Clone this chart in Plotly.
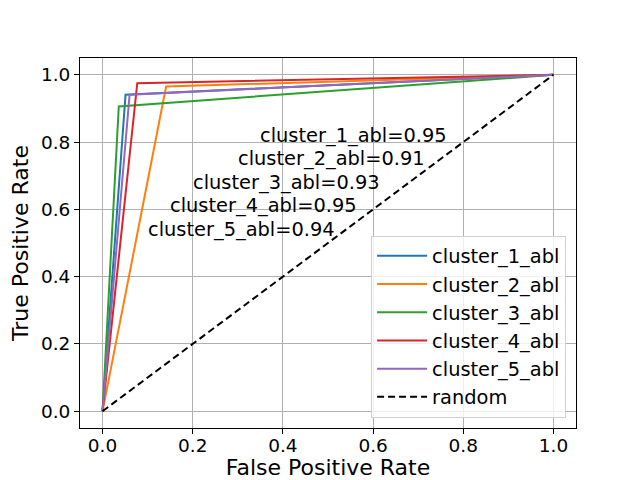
import plotly.graph_objects as go

# ROC points: (0,0) -> (fpr, tpr) -> (1,1)
names = ["cluster_1_abl", "cluster_2_abl", "cluster_3_abl", "cluster_4_abl", "cluster_5_abl"]
fpr = [0.051, 0.141, 0.036, 0.077, 0.060]
tpr = [0.941, 0.965, 0.906, 0.975, 0.941]
auc = [0.95, 0.91, 0.93, 0.95, 0.94]
random_x = [0, 1]
random_y = [0, 1]

colors = ["#1f77b4", "#ff7f0e", "#2ca02c", "#d62728", "#9467bd"]
font = "DejaVu Sans"

# where the auc labels sit (left edge, baseline)
label_x = [0.35, 0.30, 0.20, 0.15, 0.10]
label_y = [0.80, 0.73, 0.66, 0.59, 0.52]

fig = go.Figure()
for i, name in enumerate(names):
    fig.add_trace(go.Scatter(
        x=[0, fpr[i], 1], y=[0, tpr[i], 1], mode="lines", name=name,
        legendgroup=name, line=dict(color=colors[i], width=2),
    ))
fig.add_trace(go.Scatter(
    x=random_x, y=random_y, mode="lines", name="random", legendgroup="random",
    line=dict(color="black", width=2, dash="7px,4px"),
))

for i, name in enumerate(names):
    fig.add_annotation(
        x=label_x[i], y=label_y[i], text=f"{name}={auc[i]:.2f}",
        xanchor="left", yanchor="middle", yshift=7, xshift=-2, showarrow=False,
        font=dict(size=19.4, color="black", family=font),
    )

axis_style = dict(
    range=[-0.05, 1.05], tickvals=[0, 0.2, 0.4, 0.6, 0.8, 1.0],
    ticktext=["0.0", "0.2", "0.4", "0.6", "0.8", "1.0"],
    showline=True, linecolor="black", linewidth=1, mirror=True,
    ticks="outside", ticklen=5, tickcolor="black",
    showgrid=True, gridcolor="#b0b0b0", gridwidth=1, zeroline=False,
    tickfont=dict(size=18.5, color="black", family=font), automargin=False,
)

# the page body adds an 8px offset, so the figure is shrunk to fit the window
fig.update_layout(
    width=632, height=472,
    margin=dict(l=72, r=64, t=50, b=52),
    plot_bgcolor="white", paper_bgcolor="white",
    font=dict(family=font, color="black"),
    xaxis=dict(axis_style, ticklabelstandoff=-4,
               title=dict(text="False Positive Rate",
                          font=dict(size=22, family=font), standoff=5)),
    yaxis=dict(axis_style, title=dict(text="True Positive Rate",
               font=dict(size=22, family=font), standoff=6)),
    legend=dict(
        x=0.98, y=0.028, xanchor="right", yanchor="bottom",
        bgcolor="rgba(255,255,255,0.8)", bordercolor="#d0d0d0", borderwidth=1,
        font=dict(size=19.4, color="black", family=font), tracegroupgap=0,
        itemwidth=50,
    ),
    showlegend=True,
)

fig.write_html("out.html")
